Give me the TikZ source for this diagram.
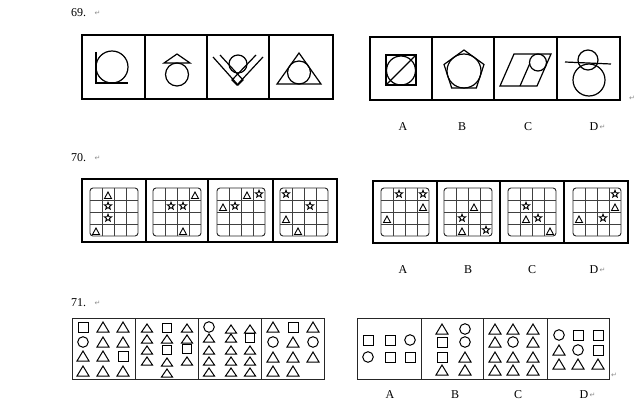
\documentclass[tikz,border=0pt]{standalone}
\usepackage{fontspec}
\setmainfont{Liberation Serif}
\newfontfamily\retfont{DejaVu Sans}
\usetikzlibrary{positioning}

\tikzset{
  bigbox/.style={line width=2.2pt},
  divline/.style={line width=1.5pt},
  thinbox/.style={line width=1pt, black!85},
  figline/.style={line width=1.2pt},
  gridbox/.style={line width=0.9pt, black!85, rounded corners=3pt},
  gridline/.style={line width=0.7pt, black!75},
  qnum/.style={anchor=west, font=\fontsize{12}{14}\selectfont, inner sep=0pt},
  optlabel/.style={font=\fontsize{12}{14}\selectfont, inner sep=0pt},
  retmark/.style={font=\retfont\fontsize{7}{8}\selectfont, text=black!45, inner sep=0pt},
  trishape/.pic={\draw[line width=1pt] (-6,5) -- (0,-5) -- (6,5) -- cycle;},
  trismall/.pic={\draw[line width=1pt] (-5.5,4) -- (0,-4) -- (5.5,4) -- cycle;},
  sqshape/.pic={\draw[line width=1pt] (-5,-5) rectangle (5,5);},
  sqsmall/.pic={\draw[line width=1pt] (-4.5,-4.2) rectangle (4.5,4.2);},
  cirshape/.pic={\draw[line width=1pt] (0,0) circle (5.3pt);},
  trimark/.pic={\draw[line width=0.9pt] (-3.5,3.5) -- (0,-3) -- (3.5,3.5) -- cycle;},
  starmark/.pic={\draw[line width=0.9pt] (-90:3.8)
      \foreach \a in {1,...,9}{-- (-90+36*\a:{mod(\a,2)==1 ? 1.6 : 3.8})} -- cycle;}
}

% one 4x4 board of question 70
\newcommand{\gridfig}[4]{%
  \draw[gridbox] (#1,#2) rectangle ++(48,48);
  \foreach \k in {1,2,3} {
    \draw[gridline] (#1+12*\k,#2) -- ++(0,48);
    \draw[gridline] (#1,#2+12*\k) -- ++(48,0);
  }
  \foreach \r/\c in {#3} \pic at (#1+12*\c-6,#2+12*\r-6) {starmark};
  \foreach \r/\c in {#4} \pic at (#1+12*\c-6,#2+12*\r-5) {trimark};
}

\begin{document}
\begin{tikzpicture}[x=1pt,y=-1pt]
  \useasboundingbox (0,0) rectangle (635,412);

  % ---- 69 ----
  \node[qnum] (q69) at (71,13) {69.};
  \node[retmark, right=8pt of q69] (r69) {↵};
  \draw[bigbox] (82,35) rectangle (333,99);
  \foreach \x in {145,207,269} \draw[divline] (\x,35) -- (\x,99);
  \draw[bigbox] (370,37) rectangle (620,100);
  \foreach \x in {432,494,557} \draw[divline] (\x,37) -- (\x,100);
  \node[retmark] (r69b) at (632,98) {↵};

  % question figures
  \draw[figline] (96,52) -- (96,83) -- (128,83);
  \draw[figline] (112,67) circle (16pt);
  \draw[figline] (164,63) -- (177,54) -- (190,63) -- cycle;
  \draw[figline] (177,74.5) circle (11.5pt);
  \draw[figline] (213,57) -- (238,85) -- (243,80) -- (220,55);
  \draw[figline] (263,57) -- (237,85) -- (232,80) -- (256,55);
  \draw[figline] (238,64) circle (9pt);
  \draw[figline] (277,84) -- (299,53) -- (321,84) -- cycle;
  \draw[figline] (299,72.5) circle (11.5pt);

  % options
  \draw[figline] (386,55) rectangle (416,85);
  \draw[figline] (401,70.5) circle (14.5pt);
  \draw[figline] (386,85) -- (416,55);
  \draw[figline] (464,50) -- (484,64.5) -- (476.3,88) -- (451.7,88) -- (444,64.5) -- cycle;
  \draw[figline] (464,71) circle (17pt);
  \draw[figline] (514,54) -- (551,54) -- (537,86) -- (500,86) -- cycle;
  \draw[figline] (538,62.5) circle (8.5pt);
  \draw[figline] (520,86) -- (529.6,64);
  \draw[figline] (589,80) circle (16pt);
  \draw[figline] (588,60) circle (10pt);
  \draw[figline] (565,62) -- (611,64);

  \node[optlabel] (a69) at (403,127) {A};
  \node[optlabel] (b69) at (462,127) {B};
  \node[optlabel] (c69) at (528,127) {C};
  \node[optlabel] (d69) at (594,127) {D};
  \node[retmark, right=1pt of d69] (r69d) {↵};

  % ---- 70 ----
  \node[qnum] (q70) at (71,158) {70.};
  \node[retmark, right=8pt of q70] (r70) {↵};
  \draw[bigbox] (82,179) rectangle (337,242);
  \foreach \x in {146,208,273} \draw[divline] (\x,179) -- (\x,242);
  \draw[bigbox] (373,181) rectangle (628,243);
  \foreach \x in {437,500,564} \draw[divline] (\x,181) -- (\x,243);

  \gridfig{90}{188}{2/2,3/2}{1/2,4/1}
  \gridfig{153}{188}{2/2,2/3}{1/4,4/3}
  \gridfig{217}{188}{1/4,2/2}{1/3,2/1}
  \gridfig{280}{188}{1/1,2/3}{3/1,4/2}
  \gridfig{381}{188}{1/2,1/4}{2/4,3/1}
  \gridfig{444}{188}{3/2,4/4}{2/3,4/2}
  \gridfig{508}{188}{2/2,3/3}{3/2,4/4}
  \gridfig{573}{188}{1/4,3/3}{2/4,3/1}

  \node[optlabel] (a70) at (403,270) {A};
  \node[optlabel] (b70) at (468,270) {B};
  \node[optlabel] (c70) at (532,270) {C};
  \node[optlabel] (d70) at (594,270) {D};
  \node[retmark, right=1pt of d70] (r70d) {↵};

  % ---- 71 ----
  \node[qnum] (q71) at (71,303) {71.};
  \node[retmark, right=8pt of q71] (r71) {↵};
  \draw[thinbox] (72,318) rectangle (324,379);
  \foreach \x in {135,198,261} \draw[thinbox] (\x,318) -- (\x,379);
  \draw[thinbox] (357,318) rectangle (609,379);
  \foreach \x in {421,483,547} \draw[thinbox] (\x,318) -- (\x,379);
  \node[retmark] (r71b) at (614,375) {↵};

  \foreach \p in {(83,327),(123,356),(293,327),
      (368,340),(390,340),(390,357),(410,357),(442,342),(442,357),
      (578,335),(598,335),(598,350)}
    \pic at \p {sqshape};
  \foreach \p in {(167,328),(167,350),(187,349),(250,338)}
    \pic at \p {sqsmall};
  \foreach \p in {(83,342),(209,327),(273,342),(313,342),
      (410,340),(368,357),(465,329),(465,342),(513,342),(559,335),(578,350)}
    \pic at \p {cirshape};
  \foreach \p in {(103,327),(123,327),(103,342),(123,342),(83,356),(103,356),(83,371),(103,371),(123,371),
      (273,327),(313,327),(293,342),(273,357),(293,357),(313,357),(273,371),(293,371),
      (442,329),(465,357),(442,370),(465,370),
      (495,329),(513,329),(533,329),(495,342),(533,342),(495,357),(513,357),(533,357),
      (495,370),(513,370),(533,370),
      (559,350),(559,364),(578,364),(598,364)}
    \pic at \p {trishape};
  \foreach \p in {(147,328),(187,328),(147,339),(167,339),(187,339),(147,350),(147,361),(167,362),(187,361),(167,373),
      (231,329),(250,329),(209,338),(231,338),(209,350),(231,350),(250,350),(209,361),(231,361),(250,361),
      (209,372),(231,372),(250,372)}
    \pic at \p {trismall};

  \node[optlabel] (a71) at (390,395) {A};
  \node[optlabel] (b71) at (455,395) {B};
  \node[optlabel] (c71) at (518,395) {C};
  \node[optlabel] (d71) at (584,395) {D};
  \node[retmark, right=1pt of d71] (r71d) {↵};
\end{tikzpicture}
\end{document}
